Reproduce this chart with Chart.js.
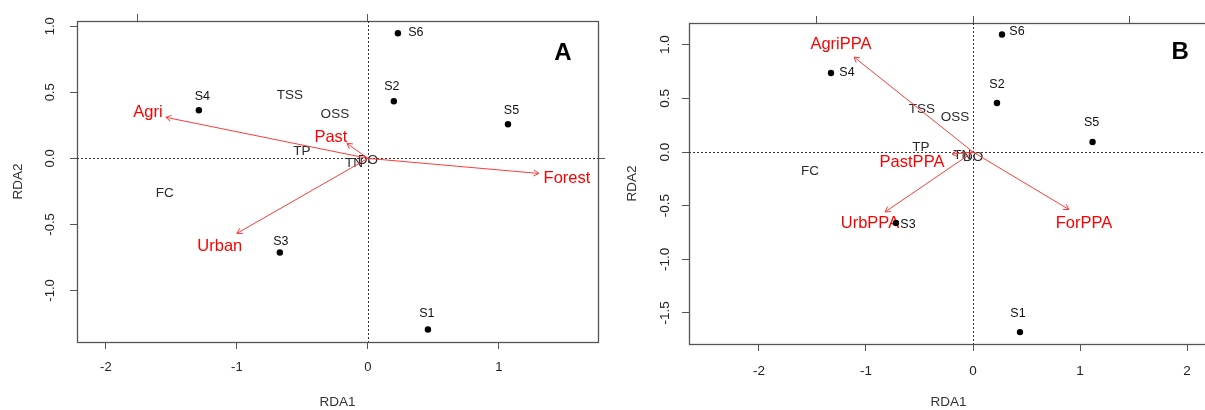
<!DOCTYPE html>
<html>
<head>
<meta charset="utf-8">
<script src="https://cdn.jsdelivr.net/npm/chart.js@4.4.0/dist/chart.umd.min.js"></script>
<style>
html, body { margin: 0; padding: 0; background: #fff; }
#wrap { position: relative; width: 1205px; height: 410px; overflow: hidden; }
#boxA { position: absolute; left: 0; top: 0; width: 605px; height: 410px; }
#boxB { position: absolute; left: 605px; top: 0; width: 610px; height: 410px; }
</style>
</head>
<body>
<div id="wrap">
  <div id="boxA"><canvas id="rdaA" width="605" height="410"></canvas></div>
  <div id="boxB"><canvas id="rdaB" width="610" height="410"></canvas></div>
</div>
<script>
var FONT = '"Liberation Sans", Arial, Helvetica, sans-serif';

// shared names
var sites = ["S1", "S2", "S3", "S4", "S5", "S6"];
var responses = ["TSS", "OSS", "TP", "FC", "TN", "DO"];

// panel A (land use)
var siteXA = [0.458, 0.198, -0.672, -1.290, 1.069, 0.229];
var siteYA = [-1.295, 0.432, -0.712, 0.364, 0.258, 0.947];
var respXA = [-0.595, -0.252, -0.504, -1.550, -0.107, 0.000];
var respYA = [0.477, 0.333, 0.053, -0.265, -0.038, -0.015];
var landA = ["Agri", "Forest", "Past", "Urban"];
var landXA = [-1.542, 1.305, -0.160, -1.000];
var landYA = [0.311, -0.114, 0.114, -0.568];
var landLabXA = [-1.679, 1.519, -0.282, -1.130];
var landLabYA = [0.348, -0.152, 0.159, -0.667];
var xTicksA = [-2, -1, 0, 1];
var yTicksA = [-1.0, -0.5, 0.0, 0.5, 1.0];
var topTicksA = [-1.76, 0];
var rightTicksA = [0];
var xLimA = [-2.22, 1.756];
var yLimA = [-1.39, 1.04];
var letterA = ["A", 1.489, 0.795];

// panel B (PPA)
var siteXB = [0.439, 0.224, -0.720, -1.327, 1.117, 0.271];
var siteYB = [-1.678, 0.457, -0.662, 0.736, 0.093, 1.095];
var respXB = [-0.477, -0.168, -0.486, -1.523, -0.100, 0.000];
var respYB = [0.400, 0.326, 0.047, -0.177, -0.030, -0.050];
var landB = ["AgriPPA", "ForPPA", "PastPPA", "UrbPPA"];
var landXB = [-1.112, 0.897, -0.196, -0.822];
var landYB = [0.885, -0.536, -0.019, -0.559];
var landLabXB = [-1.234, 1.037, -0.570, -0.963];
var landLabYB = [1.000, -0.662, -0.100, -0.670];
var xTicksB = [-2, -1, 0, 1, 2];
var yTicksB = [-1.5, -1.0, -0.5, 0.0, 0.5, 1.0];
var topTicksB = [-1.458, 0, 1.467];
var rightTicksB = [0];
var xLimB = [-2.654, 2.196];
var yLimB = [-1.789, 1.202];
var letterB = ["B", 1.935, 0.932];

// site label offsets in px (style only)
var siteLabOffA = [[-1, -16], [-2, -15], [1, -11], [3.5, -14], [3.5, -14], [18, -1]];
var siteLabOffB = [[-2, -19], [0, -18], [12, 1], [16, 0], [-1, -19], [15, -3]];

var AXIS_COLOR = '#555';

function drawArrow(ctx, x0, y0, x1, y1) {
    var ang = Math.atan2(y1 - y0, x1 - x0), len = 6, spread = Math.PI / 6;
    ctx.beginPath();
    ctx.moveTo(x0, y0);
    ctx.lineTo(x1, y1);
    ctx.moveTo(x1 - len * Math.cos(ang - spread), y1 - len * Math.sin(ang - spread));
    ctx.lineTo(x1, y1);
    ctx.lineTo(x1 - len * Math.cos(ang + spread), y1 - len * Math.sin(ang + spread));
    ctx.stroke();
}

function setTicks(list) {
    return function (scale) {
        scale.ticks = list.map(function (v) { return { value: v }; });
    };
}

function rdaChart(id, p) {
    var grid = { drawOnChartArea: false, drawTicks: true, tickLength: 7, tickColor: AXIS_COLOR, tickWidth: 1 };
    var border = { display: false };
    var tickFont = { family: FONT, size: p.tickSize };

    var biplot = {
        id: 'biplot' + id,
        beforeDatasetsDraw: function (chart) {
            var ctx = chart.ctx, a = chart.chartArea;
            var sx = chart.scales.x, sy = chart.scales.y;
            var x0 = sx.getPixelForValue(0), y0 = sy.getPixelForValue(0);
            ctx.save();
            // plot box
            ctx.strokeStyle = AXIS_COLOR;
            ctx.lineWidth = 1.3;
            ctx.strokeRect(Math.round(a.left) + 0.5, Math.round(a.top) + 0.5,
                Math.round(a.right - a.left), Math.round(a.bottom - a.top));
            // zero lines
            ctx.strokeStyle = '#333';
            ctx.lineWidth = 1;
            ctx.setLineDash([2, 2]);
            ctx.beginPath();
            ctx.moveTo(a.left, Math.round(y0) + 0.5);
            ctx.lineTo(a.right, Math.round(y0) + 0.5);
            ctx.moveTo(Math.round(x0) + 0.5, a.top);
            ctx.lineTo(Math.round(x0) + 0.5, a.bottom);
            ctx.stroke();
            ctx.setLineDash([]);

            // response variables
            ctx.fillStyle = '#2b2b2b';
            ctx.font = '13.5px ' + FONT;
            ctx.textAlign = 'center';
            ctx.textBaseline = 'middle';
            responses.forEach(function (r, i) {
                ctx.fillText(r, sx.getPixelForValue(p.respX[i]), sy.getPixelForValue(p.respY[i]));
            });

            // explanatory vectors
            ctx.strokeStyle = '#ff3a3a';
            ctx.lineWidth = 1;
            p.land.forEach(function (n, i) {
                drawArrow(ctx, x0, y0, sx.getPixelForValue(p.landX[i]), sy.getPixelForValue(p.landY[i]));
            });
            ctx.fillStyle = '#ff0000';
            ctx.font = '16.5px ' + FONT;
            p.land.forEach(function (n, i) {
                ctx.fillText(n, sx.getPixelForValue(p.landLabX[i]), sy.getPixelForValue(p.landLabY[i]));
            });
            ctx.restore();
        },
        afterDatasetsDraw: function (chart) {
            var ctx = chart.ctx;
            var sx = chart.scales.x, sy = chart.scales.y;
            ctx.save();
            ctx.fillStyle = '#111';
            ctx.font = '12.5px ' + FONT;
            ctx.textAlign = 'center';
            ctx.textBaseline = 'middle';
            sites.forEach(function (s, i) {
                ctx.fillText(s, sx.getPixelForValue(p.siteX[i]) + p.labOff[i][0],
                    sy.getPixelForValue(p.siteY[i]) + p.labOff[i][1]);
            });
            ctx.fillStyle = '#000';
            ctx.font = 'bold 24px ' + FONT;
            ctx.fillText(p.letter[0], sx.getPixelForValue(p.letter[1]), sy.getPixelForValue(p.letter[2]));
            ctx.restore();
        }
    };

    return new Chart(document.getElementById(id).getContext('2d'), {
        type: 'scatter',
        data: {
            datasets: [{
                label: 'sites',
                data: p.siteX.map(function (x, i) { return { x: x, y: p.siteY[i] }; }),
                backgroundColor: '#000',
                borderWidth: 0,
                pointRadius: 3.2,
                pointHoverRadius: 3.2
            }]
        },
        options: {
            responsive: false,
            animation: false,
            devicePixelRatio: 1,
            layout: { padding: 0 },
            plugins: { legend: { display: false }, tooltip: { enabled: false } },
            scales: {
                x: {
                    type: 'linear', position: 'bottom', min: p.xLim[0], max: p.xLim[1],
                    afterBuildTicks: setTicks(p.xTicks),
                    afterFit: function (s) { s.height = p.xH; },
                    grid: grid, border: border,
                    ticks: {
                        color: '#222', font: tickFont, padding: p.xPad, autoSkip: false,
                        maxRotation: 0, includeBounds: false,
                        callback: function (v) { return String(v); }
                    },
                    title: { display: true, text: 'RDA1', color: '#333', font: { family: FONT, size: 13.5 }, padding: { top: 0, bottom: 0 } }
                },
                y: {
                    type: 'linear', position: 'left', min: p.yLim[0], max: p.yLim[1],
                    afterBuildTicks: setTicks(p.yTicks),
                    afterFit: function (s) { s.width = p.yW; },
                    grid: grid, border: border,
                    ticks: {
                        color: '#222', font: tickFont, padding: p.yPad, autoSkip: false,
                        minRotation: 90, maxRotation: 90, crossAlign: 'center', includeBounds: false,
                        callback: function (v) { return v.toFixed(1); }
                    },
                    title: { display: true, text: 'RDA2', color: '#333', font: { family: FONT, size: 13.5 }, padding: { top: p.yTitlePad, bottom: 0 } }
                },
                x2: {
                    type: 'linear', position: 'top', min: p.xLim[0], max: p.xLim[1],
                    afterBuildTicks: setTicks(p.topTicks),
                    afterFit: function (s) { s.height = p.x2H; },
                    grid: grid, border: border,
                    ticks: { display: false }
                },
                y2: {
                    type: 'linear', position: 'right', min: p.yLim[0], max: p.yLim[1],
                    afterBuildTicks: setTicks(p.rightTicks),
                    afterFit: function (s) { s.width = p.y2W; },
                    grid: grid, border: border,
                    ticks: { display: false }
                }
            }
        },
        plugins: [biplot]
    });
}

rdaChart('rdaA', {
    siteX: siteXA, siteY: siteYA, respX: respXA, respY: respYA,
    land: landA, landX: landXA, landY: landYA, landLabX: landLabXA, landLabY: landLabYA,
    xTicks: xTicksA, yTicks: yTicksA, topTicks: topTicksA, rightTicks: rightTicksA,
    xLim: xLimA, yLim: yLimA, letter: letterA, labOff: siteLabOffA,
    tickSize: 13, xH: 68, yW: 77, x2H: 21, y2W: 7, xPad: 11, yPad: 8, yTitlePad: 10
});

rdaChart('rdaB', {
    siteX: siteXB, siteY: siteYB, respX: respXB, respY: respYB,
    land: landB, landX: landXB, landY: landYB, landLabX: landLabXB, landLabY: landLabYB,
    xTicks: xTicksB, yTicks: yTicksB, topTicks: topTicksB, rightTicks: rightTicksB,
    xLim: xLimB, yLim: yLimB, letter: letterB, labOff: siteLabOffB,
    tickSize: 13.5, xH: 66, yW: 84, x2H: 23, y2W: 7, xPad: 12, yPad: 5, yTitlePad: 19
});
</script>
</body>
</html>
